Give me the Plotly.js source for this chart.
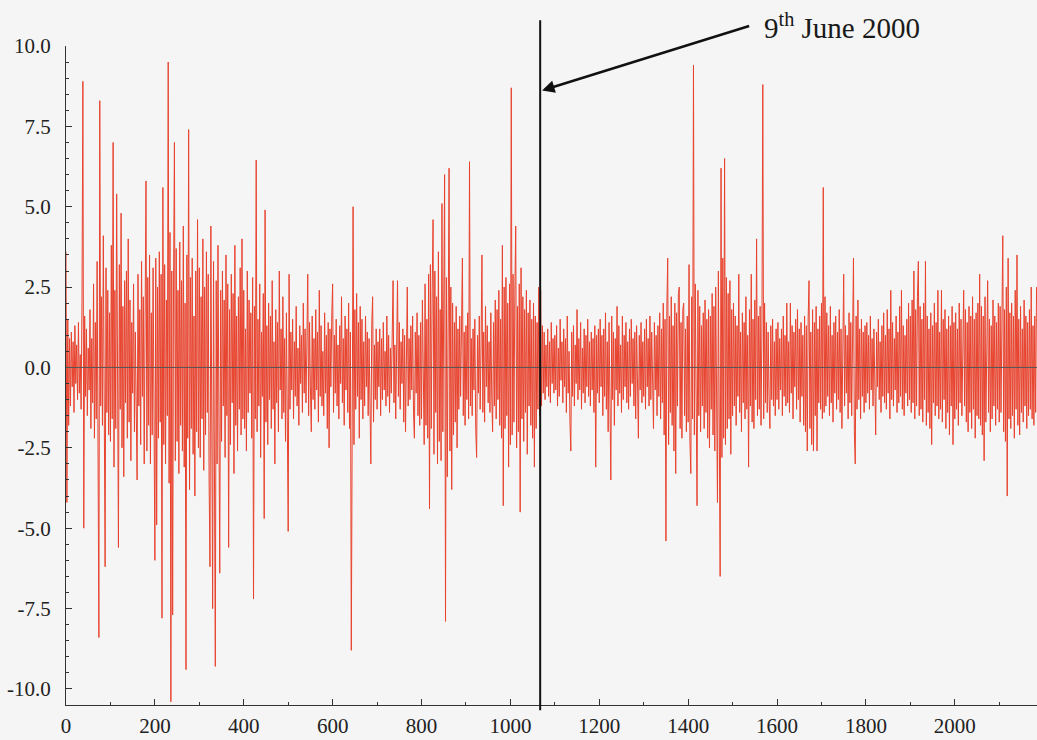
<!DOCTYPE html>
<html>
<head>
<meta charset="utf-8">
<script src="https://cdn.plot.ly/plotly-3.0.1.min.js"></script>
<style>
  html, body { margin: 0; padding: 0; background: #f5f5f5; }
  #chart { width: 1037px; height: 740px; }
</style>
</head>
<body>
<div id="chart"></div>
<script>
const STEP = 2;
const r0000 = [3.6,-4.2,1.5,-1.8,0.9,-1.2,1.1,-0.6,0.8,-1.4,1.3,-0.5,0.7,-1.0,1.4,-0.8,0.4,-1.3,2.1,8.9,-5.0,1.6,-0.9,1.2,-1.5,0.6,-0.7,1.8,-1.9,0.9,-1.1,2.6,-2.2,1.4,-1.6,3.3,-2.4,-8.4,8.3,-1.2,2.2,-1.8,4.1,-2.6,-6.2,3.1,-1.4,2.4,-2.1,1.7];
const r0100 = [-2.3,3.8,-1.6,7.0,-3.1,2.4,-1.9,5.4,-2.8,-5.6,3.2,-1.3,4.8,-2.5,1.9,-3.4,2.7,-1.1,3.0,-2.2,4.0,-1.7,2.1,-2.9,1.4,-0.8,2.6,-2.0,1.1,-1.5,-3.5,2.9,-1.2,1.8,-2.4,3.3,-0.9,2.2,-3.0,1.5,5.8,-2.6,2.8,-1.8,3.5,-3.0,1.7,-2.1,3.1,-1.4];
const r0200 = [-6.0,3.4,-4.9,2.5,-2.2,3.6,-1.7,2.9,-7.8,5.6,-2.4,3.2,-3.0,2.1,-1.5,9.5,-3.6,4.2,-10.4,3.0,-7.7,2.6,7.0,-2.9,3.7,-2.3,2.4,-3.3,3.9,-1.8,2.7,-2.6,4.4,-3.1,2.0,-9.4,3.5,-2.2,7.4,-3.8,2.8,-1.9,3.4,-2.7,1.6,-4.0,3.0,-2.0,4.6,-2.5];
const r0300 = [3.1,-2.8,2.2,-1.6,4.0,-3.2,2.5,-2.1,3.6,-1.4,2.9,-3.5,-6.2,4.4,-2.6,-7.5,3.3,-2.0,-9.3,2.7,-3.0,3.8,-1.7,-6.4,2.4,-2.3,3.0,-1.2,2.1,-2.8,3.5,-1.5,2.6,-5.6,1.8,-2.4,2.9,-1.1,2.3,-3.3,3.8,-1.8,1.6,-2.6,2.2,-1.3,3.1,-2.1,4.0,-1.6];
const r0400 = [2.4,-1.9,1.2,-2.6,3.0,-1.4,2.1,-0.8,1.7,-2.2,2.8,-7.2,1.9,-1.6,6.45,-2.0,1.5,-1.2,2.6,-2.8,1.1,-0.9,2.3,-4.7,4.9,-1.7,1.3,-2.4,2.0,-1.0,1.6,-1.9,2.7,-1.3,0.8,-3.0,1.8,-1.1,1.4,-2.0,3.0,-0.7,1.2,-1.6,2.2,-1.4,0.9,-2.3,1.7,-1.2];
const r0500 = [-5.1,2.9,-1.3,1.1,-0.7,1.5,-1.6,0.8,-0.9,1.9,-1.2,0.6,-1.8,1.3,-0.5,1.0,-1.4,2.0,-0.8,1.2,-1.1,0.7,2.9,-1.5,1.4,-0.6,-2.0,1.6,-1.0,0.9,-1.3,1.8,-0.7,1.1,-1.7,2.4,-0.9,1.3,-1.2,0.5,-1.5,1.7,-0.8,1.0,-1.9,1.4,-2.5,1.2,-0.6,1.6];
const r0600 = [2.6,-1.4,1.0,-0.8,1.5,-1.2,0.7,-1.6,1.3,-0.5,2.2,-1.1,0.9,-1.8,1.6,-0.7,1.2,-1.4,2.0,-1.9,1.1,-8.8,1.7,5.0,-2.4,1.8,-1.3,2.3,-0.9,1.4,-2.2,1.9,-1.0,1.5,-1.6,0.8,-1.2,1.6,-0.6,1.1,-1.5,0.9,-1.1,-3.0,1.3,2.2,-1.7,0.7,-1.0,1.2];
const r0700 = [-1.3,0.8,-0.6,1.2,-1.5,0.9,-1.0,1.4,-0.7,0.5,-1.2,1.6,-0.9,1.0,-1.4,0.6,-0.8,1.3,2.7,-1.1,0.7,-1.6,1.1,2.7,-0.9,1.4,-1.3,0.8,-0.5,1.2,-1.7,1.0,-2.0,1.5,2.5,-1.2,0.9,-1.0,1.3,-0.7,1.6,-1.4,-2.2,1.1,-0.8,1.7,-1.5,1.0,-1.8,1.4];
const r0800 = [-1.6,2.1,-1.2,-2.4,2.6,-1.8,1.5,-2.2,2.9,-4.4,3.2,-1.9,2.4,4.6,-2.7,3.0,-1.4,2.2,-3.0,3.6,-2.3,1.8,-2.9,5.1,-2.0,3.3,6.0,-7.9,2.8,-3.4,3.9,6.2,-2.6,2.5,-3.8,2.0,-2.1,1.4,-1.7,1.9,-2.5,1.2,-1.3,1.6,-0.9,1.8,3.4,-1.5,1.1,-1.8];
const r0900 = [1.3,-1.0,1.7,-1.6,6.4,-1.2,0.9,-1.5,1.2,-0.7,1.5,-1.9,-2.8,1.0,-0.8,1.6,-1.3,0.7,3.5,-1.4,1.1,-1.7,1.9,-0.6,1.3,-1.1,0.8,-1.4,1.7,-0.9,-2.0,1.4,-1.2,2.1,-1.6,1.8,-1.0,2.4,-1.8,1.5,-2.2,3.8,-4.3,2.5,-1.9,2.8,-1.5,2.0,-3.1,2.6];
const r1000 = [-2.4,8.7,-2.1,2.9,-1.7,2.3,4.4,-2.5,1.9,-2.0,2.6,-4.5,3.1,-1.6,2.2,-2.3,1.8,-1.4,2.4,-2.7,1.7,-1.2,2.1,-1.8,1.5,-2.2,2.0,-3.1,1.6,-1.9,1.4,-1.3,2.5,-1.5,2.4,-1.2,1.3,-0.8,1.1,-1.0,0.7,-0.6,1.2,-0.9,0.8,-1.1,1.4,-0.5,0.9,-0.8];
const r1100 = [1.0,-0.7,1.3,-1.2,0.6,-0.9,1.5,-0.4,0.8,-1.1,1.2,-0.6,0.9,-1.4,1.6,-0.8,0.5,-1.7,-2.6,1.1,-0.9,1.3,-1.2,0.7,-0.5,1.8,-1.0,0.9,-0.7,1.4,-1.3,0.6,-0.8,1.2,-1.1,1.0,-0.6,1.5,-0.9,0.8,-1.2,1.1,-0.7,0.9,-1.4,1.3,-3.1,1.0,-0.8,1.2];
const r1200 = [-1.1,1.5,-0.6,1.0,-1.5,1.2,-0.9,1.7,-1.3,0.8,-2.0,1.4,-2.3,-3.5,1.6,-1.0,1.1,-1.8,0.9,-0.7,1.9,-1.2,1.3,-0.8,0.7,-1.4,1.6,-1.0,1.0,-0.6,1.4,-1.1,0.8,-1.3,1.2,-0.9,1.5,-0.5,0.9,-1.2,1.1,-1.6,1.3,-0.8,-2.2,1.0,-0.7,1.4,-1.1,0.8];
const r1300 = [-0.9,1.2,-1.3,1.5,-0.6,0.9,-1.2,1.6,-1.0,1.1,-0.8,-1.9,1.4,-0.7,1.0,-1.5,1.3,-0.9,1.7,-1.6,1.2,-1.1,2.0,-2.1,1.5,-5.4,1.8,3.4,-2.4,1.6,-1.4,2.2,-1.8,1.3,-2.6,2.0,-3.3,1.7,-1.2,2.3,2.5,-1.9,1.4,-2.2,1.8,2.0,-1.5,1.2,-2.0,1.6];
const r1400 = [-1.7,3.2,-2.3,-3.3,2.2,-1.6,9.4,-2.1,2.6,-2.8,-4.3,2.4,-1.5,1.9,-2.0,1.3,-1.2,1.7,-1.9,2.1,-1.4,1.5,-2.2,1.8,-2.5,1.6,-1.3,2.3,-2.1,1.9,-2.6,2.5,-3.0,-4.2,3.0,-3.3,-6.5,6.2,-2.8,3.4,-2.2,6.5,-2.4,2.8,-1.9,2.3,-1.6,2.7,-2.7,1.8];
const r1500 = [-1.5,2.0,-1.2,1.6,-1.8,1.3,-0.9,2.9,-1.4,1.1,-2.0,1.7,-1.1,1.4,-1.6,2.2,-1.3,1.0,-3.1,1.8,-1.2,2.9,-1.7,1.5,-1.9,2.1,-1.0,4.0,-1.5,1.6,-1.3,1.9,-1.8,1.2,8.8,-1.6,2.0,-1.1,1.4,-1.4,1.1,-0.9,-1.9,1.3,-1.0,1.5,-1.2,0.8,-1.5,1.2];
const r1600 = [-1.0,1.4,-1.3,0.9,-0.7,1.2,-1.5,1.6,-0.9,1.0,-1.2,2.0,-1.1,0.8,-1.4,2.0,-0.8,1.3,-1.6,1.1,-0.6,1.5,-1.3,1.8,-1.0,1.2,-1.7,1.4,-0.9,1.0,-1.8,1.6,-2.0,1.3,-2.6,1.5,2.7,-1.9,1.1,-2.4,1.8,-2.6,1.4,-1.5,1.9,-2.6,1.2,-1.1,1.6,-1.3];
const r1700 = [2.0,-1.6,5.6,-1.4,2.2,-1.2,1.7,-0.9,1.3,-1.5,1.9,-1.1,1.0,-1.7,1.4,-0.8,1.6,-1.3,1.1,-1.0,1.8,-1.4,1.2,-1.9,1.5,2.9,-1.2,1.3,-0.8,1.0,-1.6,1.7,-1.1,1.4,-1.5,1.9,3.4,-2.0,-3.0,1.6,-1.3,2.1,-1.0,1.2,-1.6,1.5,-0.9,1.1,-1.4,1.3];
const r1800 = [-1.1,1.4,-0.8,1.0,-1.3,1.6,-0.7,0.9,-1.2,1.2,-1.5,-2.1,1.1,-0.6,1.5,-1.0,0.8,-1.4,1.3,-0.9,1.7,-1.1,1.0,-1.3,1.8,-0.8,1.2,-1.6,2.4,-1.0,1.4,-1.2,0.9,-0.7,1.6,-1.4,1.1,-1.1,1.9,-0.9,2.4,-1.3,1.3,-1.5,1.0,-0.8,1.5,-1.2,2.0,-1.0];
const r1900 = [1.6,-1.4,2.1,-1.1,3.0,-1.6,1.8,-1.2,2.2,3.3,-1.5,1.9,-1.3,1.5,-1.7,2.0,-1.0,3.3,-1.8,1.6,-1.4,1.2,-1.9,1.7,-2.4,1.3,-1.1,2.0,-1.5,1.4,-1.2,2.4,-1.6,1.1,-1.3,2.4,-1.7,1.5,-1.0,1.8,-1.9,1.2,-1.4,1.6,-2.1,1.3,-1.2,1.9,-2.4,1.4];
const r2000 = [-1.6,1.7,-1.3,1.2,-1.8,2.0,-1.1,1.5,-1.5,1.3,2.4,-1.2,1.8,-1.7,1.4,-2.0,1.9,-1.4,1.6,-1.9,2.2,-1.3,1.5,-2.2,1.7,-1.5,2.0,-1.6,2.9,-1.8,1.9,-2.1,1.6,-2.9,2.2,-1.7,1.8,2.7,-1.4,1.5,-2.0,1.3,-1.6,2.1,-1.2,1.6,-1.8,1.4,-1.3,2.0];
const r2100 = [-1.7,1.9,-1.4,2.3,4.1,-2.0,1.8,-2.3,2.5,-4.0,3.4,-1.6,1.7,-1.9,2.0,-1.5,1.6,-2.2,2.4,-1.3,3.5,-1.8,1.5,-2.1,1.9,-1.4,1.2,-1.7,2.1,-1.2,1.6,-1.9,1.4,-1.5,1.8,-1.3,2.5,-1.6,1.3,-1.8,1.6,-1.4,2.5];

const returns = [].concat(r0000, r0100, r0200, r0300, r0400, r0500, r0600, r0700, r0800, r0900,
  r1000, r1100, r1200, r1300, r1400, r1500, r1600, r1700, r1800, r1900, r2000, r2100);
const obs = returns.map((_, i) => i * STEP);

const eventObs = 1067;               // 9th June 2000
const eventLabel = '9<sup>th</sup> June 2000';

const xTickVals = [0, 200, 400, 600, 800, 1000, 1200, 1400, 1600, 1800, 2000];
const xTickLabels = ['0', '200', '400', '600', '800', '1000', '1200', '1400', '1600', '1800', '2000'];
const yTickVals = [-10, -7.5, -5, -2.5, 0, 2.5, 5, 7.5, 10];
const yTickLabels = ['-10.0', '-7.5', '-5.0', '-2.5', '0.0', '2.5', '5.0', '7.5', '10.0'];

const serif = "'Liberation Serif', 'Times New Roman', Times, serif";
const axisColor = '#333';
const labelColor = '#222';

const trace = {
  x: obs,
  y: returns,
  type: 'scatter',
  mode: 'lines',
  line: { color: '#e8432e', width: 1 },
  hoverinfo: 'x+y'
};

const layout = {
  width: 1037,
  height: 740,
  margin: { l: 66, r: 0, t: 46, b: 35, pad: 0 },
  paper_bgcolor: '#f5f5f5',
  plot_bgcolor: '#f5f5f5',
  showlegend: false,
  font: { family: serif, size: 21, color: labelColor },
  xaxis: {
    range: [0, 2185],
    showgrid: false,
    zeroline: false,
    showline: true,
    linecolor: axisColor,
    linewidth: 1,
    ticks: 'inside',
    ticklen: 6,
    tickcolor: axisColor,
    tickmode: 'array',
    tickvals: xTickVals,
    ticktext: xTickLabels,
    tickfont: { family: serif, size: 21, color: labelColor },
    ticklabelstandoff: 2,
    minor: { ticks: 'inside', ticklen: 3, dtick: 100, tick0: 0, tickcolor: axisColor, showgrid: false }
  },
  yaxis: {
    range: [-10.5, 10],
    showgrid: false,
    zeroline: false,
    showline: true,
    linecolor: axisColor,
    linewidth: 1,
    ticks: 'inside',
    ticklen: 6,
    tickcolor: axisColor,
    tickmode: 'array',
    tickvals: yTickVals,
    ticktext: yTickLabels,
    tickfont: { family: serif, size: 21, color: labelColor },
    ticklabelstandoff: 10,
    minor: { ticks: 'inside', ticklen: 3, dtick: 0.5, tick0: 0, tickcolor: axisColor, showgrid: false }
  },
  shapes: [
    { type: 'line', xref: 'paper', x0: 0, x1: 1, yref: 'y', y0: 0, y1: 0,
      line: { color: '#555', width: 1 }, layer: 'above' },
    { type: 'line', xref: 'x', x0: eventObs, x1: eventObs, yref: 'paper', y0: -0.008, y1: 1.039,
      line: { color: '#111', width: 2 }, layer: 'above' }
  ],
  annotations: [
    {
      x: eventObs, y: 8.6, xref: 'x', yref: 'y',
      text: eventLabel,
      showarrow: true,
      arrowhead: 2, arrowsize: 1, arrowwidth: 2.5, arrowcolor: '#111',
      standoff: 2,
      ax: 209, ay: -65,
      xanchor: 'left', yanchor: 'middle',
      borderpad: 14,
      font: { family: serif, size: 29, color: '#1a1a1a' }
    }
  ]
};

Plotly.newPlot('chart', [trace], layout, { displayModeBar: false, staticPlot: true });
</script>
</body>
</html>
